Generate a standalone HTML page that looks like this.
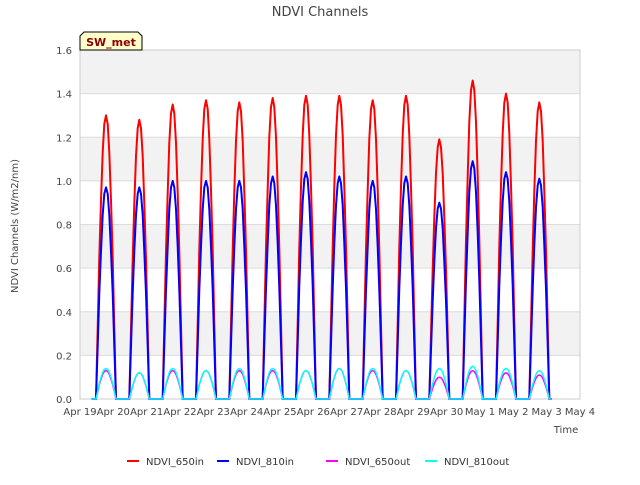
<!DOCTYPE html>
<html><head><meta charset="utf-8"><style>
body{margin:0;background:#fff;font-family:"Liberation Sans","DejaVu Sans",sans-serif}
svg text{font-family:"DejaVu Sans","Liberation Sans",sans-serif}
</style></head><body>
<svg id="chart" width="640" height="480" xmlns="http://www.w3.org/2000/svg">
<rect width="640" height="480" fill="#fff"/>
<text x="320" y="16" text-anchor="middle" font-size="13" fill="#444">NDVI Channels</text>
<g id="plot"></g>
<g>
<path d="M84,32 H138 L142,36 V50 H80 V36 Z" fill="#ffffcc" stroke="#000" stroke-width="1"/>
<text x="111" y="46" text-anchor="middle" font-size="11" font-weight="bold" fill="#8b0000">SW_met</text>
</g>
<text transform="translate(18,226) rotate(-90)" text-anchor="middle" font-size="10" fill="#444">NDVI Channels (W/m2/nm)</text>
<text x="566" y="433" text-anchor="middle" font-size="10" fill="#444">Time</text>
<g id="legend"></g>
</svg>
<script>
const dayLabels=["Apr 19","Apr 20","Apr 21","Apr 22","Apr 23","Apr 24","Apr 25","Apr 26","Apr 27","Apr 28","Apr 29","Apr 30","May 1","May 2","May 3","May 4"];
const yTicks=[0,0.2,0.4,0.6,0.8,1.0,1.2,1.4,1.6];
const peak650in=[1.30,1.28,1.35,1.37,1.36,1.38,1.39,1.39,1.37,1.39,1.19,1.46,1.40,1.36];
const peak810in=[0.97,0.97,1.00,1.00,1.00,1.02,1.04,1.02,1.00,1.02,0.90,1.09,1.04,1.01];
const peak650out=[0.13,0.12,0.13,0.13,0.13,0.13,0.13,0.14,0.13,0.13,0.10,0.13,0.12,0.11];
const peak810out=[0.14,0.12,0.14,0.13,0.14,0.14,0.13,0.14,0.14,0.13,0.14,0.15,0.14,0.13];
const dayShape=[0,0.25,0.5,0.7,0.87,0.97,1,0.97,0.87,0.7,0.5,0.25,0];
const names=["NDVI_650in","NDVI_810in","NDVI_650out","NDVI_810out"];
const colors=["#ff0000","#0000ff","#ff00ff","#00ffff"];
const L=80,R=580,T=50,B=399;
const xs=d=>L+(d/15)*(R-L);
const ys=v=>B-(v/1.6)*(B-T);
const NS="http://www.w3.org/2000/svg";
const plot=document.getElementById('plot');
function mk(t,a,p){const e=document.createElementNS(NS,t);for(const k in a)e.setAttribute(k,a[k]);(p||plot).appendChild(e);return e;}
const bg=mk('rect',{x:L,y:T,width:R-L,height:B-T,fill:'#fff'});


for(let i=0;i<yTicks.length-1;i++){
  if(i%2===1){const b=mk('rect',{x:L,y:ys(yTicks[i+1]),width:R-L,height:ys(yTicks[i])-ys(yTicks[i+1]),fill:'#f2f2f2'});
  
  }
}
yTicks.forEach(v=>{
  const g=mk('line',{x1:L,x2:R,y1:ys(v),y2:ys(v),stroke:'#dcdcdc','stroke-width':1});
  
  
  const t=mk('text',{x:L-8,y:ys(v)+4,'text-anchor':'end','font-size':10,fill:'#444'});
  t.textContent=v.toFixed(1);
  
  
});
mk('rect',{x:L,y:T,width:R-L,height:B-T,fill:'none',stroke:'#ccc'});
dayLabels.forEach((s,i)=>{
  const t=mk('text',{x:xs(i),y:B+16,'text-anchor':'middle','font-size':10,fill:'#444'});
  t.textContent=s;
  
  
});
const series=[peak650in,peak810in,peak650out,peak810out];
series.forEach((pk,si)=>{
  let pts=[[xs(0.35),ys(0)]];
  pk.forEach((p,i)=>{
    const c=i+0.78,w=0.3;
    dayShape.forEach((f,k)=>{const d=c-w+2*w*k/(dayShape.length-1);pts.push([xs(d),ys(p*f)]);});
  });
  pts.push([xs(14.15),ys(0)]);
  const pl=mk('polyline',{points:pts.map(p=>p[0].toFixed(1)+','+p[1].toFixed(1)).join(' '),fill:'none',stroke:colors[si],'stroke-width':si<2?2:1.5,'stroke-linejoin':'round'});
  
  
});
const leg=document.getElementById('legend');
const lx=[127,217,326,425];
names.forEach((n,i)=>{
  const l=mk('line',{x1:lx[i],x2:lx[i]+12,y1:461,y2:461,stroke:colors[i],'stroke-width':2},leg);
  
  
  const t=mk('text',{x:lx[i]+19,y:465,'font-size':10,fill:'#333'},leg);
  t.textContent=n;
  
  
});
</script>
</body></html>
